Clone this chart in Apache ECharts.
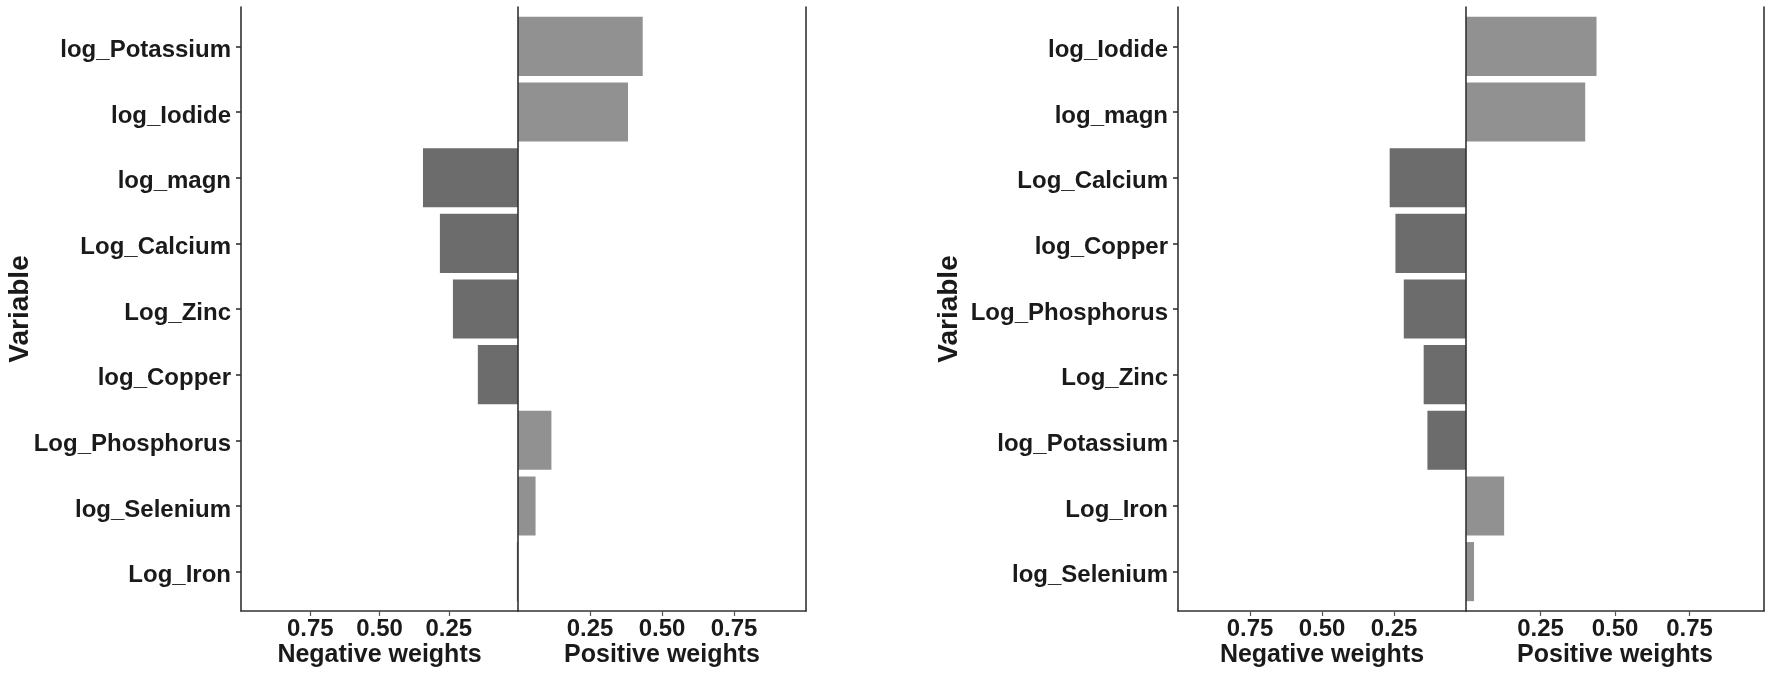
<!DOCTYPE html>
<html>
<head>
<meta charset="utf-8">
<script src="https://cdn.jsdelivr.net/npm/echarts@6/dist/echarts.min.js"></script>
<style>
  html, body { margin: 0; padding: 0; background: #ffffff; }
  #chart { width: 1772px; height: 681px; }
</style>
</head>
<body>
<div id="chart"></div>
<script>
// ---- Data ----
const leftCategories = ['log_Potassium', 'log_Iodide', 'log_magn', 'Log_Calcium', 'Log_Zinc', 'log_Copper', 'Log_Phosphorus', 'log_Selenium', 'Log_Iron'];
const leftWeights    = [0.433, 0.382, -0.343, -0.282, -0.235, -0.145, 0.116, 0.061, -0.004];

const rightCategories = ['log_Iodide', 'log_magn', 'Log_Calcium', 'log_Copper', 'Log_Phosphorus', 'Log_Zinc', 'log_Potassium', 'Log_Iron', 'log_Selenium'];
const rightWeights    = [0.438, 0.400, -0.265, -0.245, -0.216, -0.147, -0.134, 0.128, 0.027];

const negTickValues = [-0.75, -0.50, -0.25];
const posTickValues = [0.25, 0.50, 0.75];
const yTitle = 'Variable';
const negTitle = 'Negative weights';
const posTitle = 'Positive weights';

// ---- Layout / style ----
const FONT = "'Liberation Sans', Arial, sans-serif";
const LINE = { color: '#333333', width: 1.6 };
const NEG_COLOR = '#6c6c6c';
const POS_COLOR = '#919191';
const TOP = 7, BOTTOM = 611;
const SPAN = 9.2;                       // discrete scale with 0.6 expansion each side
const band = (BOTTOM - TOP) / SPAN;
const dataTop = TOP + 0.1 * band;
const dataHeight = 9 * band;
const xOffset = BOTTOM - (dataTop + dataHeight);

const panels = [
  { L: 241, Z: 518, R: 806, cats: leftCategories, vals: leftWeights, yNameGap: 207 },
  { L: 1178, Z: 1466, R: 1764, cats: rightCategories, vals: rightWeights, yNameGap: 215 }
];

const grid = [], xAxis = [], yAxis = [], series = [];
const labelText = { fontFamily: FONT, fontWeight: 'bold', color: '#1a1a1a' };

panels.forEach(p => {
  // negative half
  const gNeg = grid.length;
  grid.push({ left: p.L, width: p.Z - p.L, top: dataTop, height: dataHeight });
  xAxis.push({
    gridIndex: gNeg, type: 'value', min: -1, max: 0, offset: xOffset,
    axisLine: { show: true, onZero: false, lineStyle: LINE },
    axisTick: { show: true, customValues: negTickValues, length: 5, lineStyle: { color: '#555', width: 1.2 } },
    axisLabel: { customValues: negTickValues, formatter: v => Math.abs(v).toFixed(2), margin: 6, fontSize: 24, ...labelText },
    splitLine: { show: false },
    name: negTitle, nameLocation: 'middle', nameGap: 32, nameMoveOverlap: false,
    nameTextStyle: { fontSize: 25, ...labelText }
  });
  yAxis.push({
    gridIndex: gNeg, type: 'category', data: p.cats, inverse: true, position: 'left',
    axisLine: { show: false, onZero: false },
    axisTick: { show: true, alignWithLabel: true, length: 5, lineStyle: LINE },
    axisLabel: { margin: 10, fontSize: 24, verticalAlign: 'top', lineHeight: 8, ...labelText },
    name: yTitle, nameLocation: 'middle', nameGap: p.yNameGap, nameRotate: 90, nameMoveOverlap: false,
    nameTextStyle: { fontSize: 28, ...labelText }
  });
  series.push({
    type: 'bar', xAxisIndex: gNeg, yAxisIndex: gNeg, barWidth: '90%', silent: true,
    itemStyle: { color: NEG_COLOR },
    data: p.vals.map(v => v < 0 ? v : '-')
  });

  // positive half
  const gPos = grid.length;
  grid.push({ left: p.Z, width: p.R - p.Z, top: dataTop, height: dataHeight });
  xAxis.push({
    gridIndex: gPos, type: 'value', min: 0, max: 1, offset: xOffset,
    axisLine: { show: true, onZero: false, lineStyle: LINE },
    axisTick: { show: true, customValues: posTickValues, length: 5, lineStyle: { color: '#555', width: 1.2 } },
    axisLabel: { customValues: posTickValues, formatter: v => v.toFixed(2), margin: 6, fontSize: 24, ...labelText },
    splitLine: { show: false },
    name: posTitle, nameLocation: 'middle', nameGap: 32, nameMoveOverlap: false,
    nameTextStyle: { fontSize: 25, ...labelText }
  });
  yAxis.push({
    gridIndex: gPos, type: 'category', data: p.cats, inverse: true, show: false
  });
  series.push({
    type: 'bar', xAxisIndex: gPos, yAxisIndex: gPos, barWidth: '90%', silent: true,
    itemStyle: { color: POS_COLOR },
    data: p.vals.map(v => v > 0 ? v : '-')
  });
});

// frame lines (full-height vertical axis lines)
const frameY = (gi, pos) => ({
  gridIndex: gi, type: 'value', position: pos, min: 0, max: 1,
  axisLine: { show: true, onZero: false, lineStyle: LINE },
  axisTick: { show: false }, axisLabel: { show: false }, splitLine: { show: false }, z: 10
});
panels.forEach(p => {
  const a = grid.length;
  grid.push({ left: p.L, width: p.Z - p.L, top: TOP, height: BOTTOM - TOP });
  xAxis.push({ gridIndex: a, type: 'value', show: false });
  yAxis.push(frameY(a, 'left'));
  const b = grid.length;
  grid.push({ left: p.Z, width: p.R - p.Z, top: TOP, height: BOTTOM - TOP });
  xAxis.push({ gridIndex: b, type: 'value', show: false });
  yAxis.push(frameY(b, 'left'));
  yAxis.push(frameY(b, 'right'));
});

const chart = echarts.init(document.getElementById('chart'), null, { renderer: 'canvas' });
chart.setOption({
  animation: false,
  backgroundColor: '#ffffff',
  grid, xAxis, yAxis, series
});
</script>
</body>
</html>
